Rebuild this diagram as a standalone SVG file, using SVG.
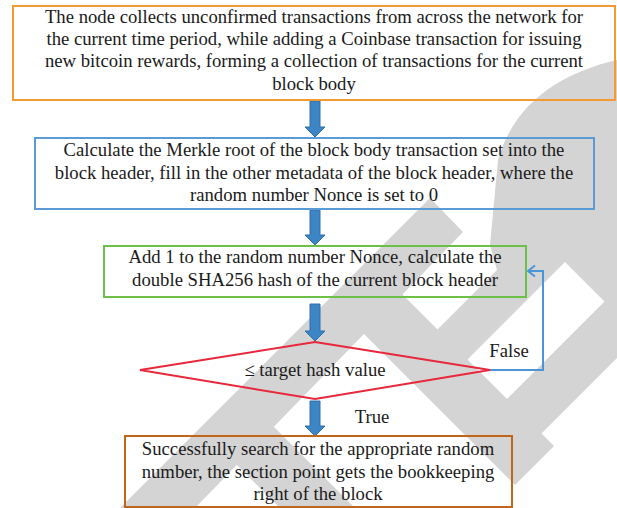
<svg xmlns="http://www.w3.org/2000/svg" width="617" height="508" viewBox="0 0 617 508">
<defs>
<style>
.t{font-family:"Liberation Serif","Times New Roman",serif;font-size:18.7px;fill:#1a1a1a;text-anchor:middle}
.wm{fill:#d4d4d4}
.box{fill:none;stroke-width:2}
.blk{fill:#3d86c6;stroke:#2f6fa8;stroke-width:1}
</style>
<marker id="chev" markerWidth="12" markerHeight="14" refX="9" refY="7" orient="auto" markerUnits="userSpaceOnUse">
<path d="M2,1.5 L9,7 L2,12.5" fill="none" stroke="#4a94d8" stroke-width="2"/>
</marker>
</defs>
<rect width="617" height="508" fill="#ffffff"/>
<g id="watermark">
<path class="wm" d="M120,508 L430,198 L463,232 L195,508 Z"/>
<path class="wm" d="M617,60 C565,72 515,100 498,160 L490,245 L497,270 L437,330 L467,360 L565,262 L617,314 Z"/>
<path class="wm" d="M394,286 L554,446 L515,485 L355,325 Z"/>
<path class="wm" d="M617,289 L617,358 L527,448 L493,413 Z"/>
<path class="wm" d="M221,449 L258,411 L355,508 L280,508 Z"/>
</g>
<g id="connectors">
<path class="blk" d="M310,101 H320 V127 H325 L315,137 L305,127 H310 Z"/>
<path class="blk" d="M310,210 H320 V235 H325 L315,245 L305,235 H310 Z"/>
<path class="blk" d="M310,304 H320 V331 H325 L315,341 L305,331 H310 Z"/>
<path class="blk" d="M310,401 H320 V426 H325 L315,436 L305,426 H310 Z"/>
<polyline points="490,370 543,370 543,271 528,271" fill="none" stroke="#4a94d8" stroke-width="2" marker-end="url(#chev)"/>
<text class="t" x="509" y="357">False</text>
<text class="t" x="372" y="423">True</text>
</g>
<g id="n1">
<rect class="box" x="13" y="6" width="602" height="94" stroke="#f59a32"/>
<text class="t" x="314" y="22.5">The node collects unconfirmed transactions from across the network for</text>
<text class="t" x="314" y="45">the current time period, while adding a Coinbase transaction for issuing</text>
<text class="t" x="314" y="67">new bitcoin rewards, forming a collection of transactions for the current</text>
<text class="t" x="314" y="89.5">block body</text>
</g>
<g id="n2">
<rect class="box" x="35" y="138" width="559" height="71" stroke="#5b9bd5"/>
<text class="t" x="314" y="156">Calculate the Merkle root of the block body transaction set into the</text>
<text class="t" x="314" y="178.5">block header, fill in the other metadata of the block header, where the</text>
<text class="t" x="314" y="200.5">random number Nonce is set to 0</text>
</g>
<g id="n3">
<rect class="box" x="104" y="246" width="422" height="51" stroke="#6cc04a"/>
<text class="t" x="315" y="263">Add 1 to the random number Nonce, calculate the</text>
<text class="t" x="315" y="285.5">double SHA256 hash of the current block header</text>
</g>
<g id="n4">
<polygon points="315,342 490,370 315,399 140,370" fill="none" stroke="#e8283c" stroke-width="2"/>
<text class="t" x="315" y="376">≤ target hash value</text>
</g>
<g id="n5">
<rect class="box" x="125" y="436" width="387" height="71" stroke="#c0661b"/>
<text class="t" x="318" y="455">Successfully search for the appropriate random</text>
<text class="t" x="318" y="478">number, the section point gets the bookkeeping</text>
<text class="t" x="318" y="500">right of the block</text>
</g>
</svg>
